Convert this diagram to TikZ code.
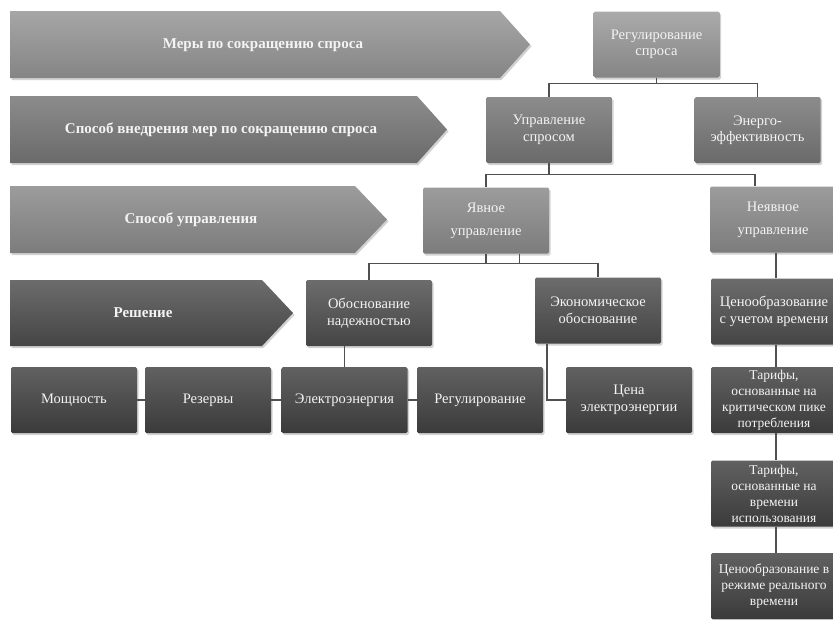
\documentclass[tikz,border=0pt]{standalone}
\usepackage{fontspec}
\setmainfont{Liberation Serif}
\usetikzlibrary{shadows}
\definecolor{aAt}{HTML}{A6A6A6}\definecolor{aAb}{HTML}{858585}
\definecolor{aBt}{HTML}{8C8C8C}\definecolor{aBb}{HTML}{6A6A6A}
\definecolor{aCt}{HTML}{9C9C9C}\definecolor{aCb}{HTML}{7C7C7C}
\definecolor{aDt}{HTML}{6C6C6C}\definecolor{aDb}{HTML}{454545}
\definecolor{conncol}{HTML}{505050}
\definecolor{txtcol}{HTML}{F4F4F4}
\begin{document}
\begin{tikzpicture}[x=1pt,y=-1pt,
  shd/.style={drop shadow={opacity=0.35,shadow xshift=1.5pt,shadow yshift=-2pt}},
  arrowshape/.style={shd,draw=none},
  arrowtext/.style={text=txtcol,font=\fontsize{15}{17}\selectfont\bfseries},
  box/.style={shd,draw=none,rounded corners=1.5pt,minimum width=126pt,minimum height=66pt,
    inner sep=1pt,align=center,text=txtcol,font=\fontsize{14.5}{16.5}\selectfont},
  boxA/.style={box,top color=aAt!95!white,bottom color=aAb},
  boxB/.style={box,top color=aBt,bottom color=aBb},
  boxC/.style={box,top color=aCt,bottom color=aCb},
  boxD/.style={box,top color=aDt,bottom color=aDb},
  boxE/.style={box,top color=black!62,bottom color=black!77},
  small/.style={font=\fontsize{13.5}{16}\selectfont},
  conn/.style={draw=conncol,line width=1.3pt}]
\useasboundingbox[fill=white] (0,0) rectangle (833,619);

% left arrows
\path[arrowshape,top color=aAt,bottom color=aAb] (10,11) -- (500,11) -- (530,44.5) -- (500,78) -- (10,78) -- cycle;
\node[arrowtext] (t1) at (263,45) {Меры по сокращению спроса};
\path[arrowshape,top color=aBt,bottom color=aBb] (10,96) -- (417,96) -- (447,129.5) -- (417,163) -- (10,163) -- cycle;
\node[arrowtext] (t2) at (221,130) {Способ внедрения мер по сокращению спроса};
\path[arrowshape,top color=aCt,bottom color=aCb] (10,186) -- (355,186) -- (387,219.5) -- (355,253) -- (10,253) -- cycle;
\node[arrowtext] (t3) at (191,220) {Способ управления};
\path[arrowshape,top color=aDt,bottom color=aDb] (10,280) -- (262,280) -- (293,313) -- (262,346) -- (10,346) -- cycle;
\node[arrowtext] (t4) at (143,313) {Решение};

% boxes
\node[boxA] (reg) at (656.5,44.5) {Регулирование\\спроса};
\node[boxB] (upr) at (549,130) {Управление\\спросом};
\node[boxB] (ener) at (757.5,130) {Энерго-\\эффективность};
\node[boxC,font=\fontsize{14.5}{23}\selectfont] (yav) at (486,220.5) {Явное\\управление};
\node[boxC,font=\fontsize{14.5}{23}\selectfont] (neyav) at (773,219.5) {Неявное\\управление};
\node[boxD] (obosn) at (369,313) {Обоснование\\надежностью};
\node[boxD] (econ) at (598,310.5) {Экономическое\\обоснование};
\node[boxD] (cen1) at (774,311.5) {Ценообразование\\с учетом времени};
\node[boxE] (mosh) at (74,400) {\strut Мощность};
\node[boxE] (rez) at (208,400) {\strut Резервы};
\node[boxE] (elec) at (344.5,400) {\strut Электроэнергия};
\node[boxE] (regul) at (480,400) {\strut Регулирование};
\node[boxE] (cena) at (629,400) {Цена\\электроэнергии};
\node[boxE,small] (tar1) at (774,400) {Тарифы,\\основанные на\\критическом пике\\потребления};
\node[boxE,small] (tar2) at (774,493.5) {Тарифы,\\основанные на\\времени\\использования};
\node[boxE,small] (cen2) at (774,586) {Ценообразование в\\режиме реального\\времени};

% connectors
\draw[conn] (reg.south) -- ++(0,6) -| (upr.north);
\draw[conn] (reg.south) -- ++(0,6) -| (ener.north);
\draw[conn] (upr.south) -- ++(0,11) -| (yav.north);
\draw[conn] (upr.south) -- ++(0,11) -| ([xshift=-18pt]neyav.north);
\draw[conn] (obosn.north) -- ++(0,-16) -| (econ.north);
\coordinate (ylev) at ([yshift=16pt]obosn.north);
\draw[conn] (yav.south) -- (yav.south |- ylev);
\draw[conn] ([xshift=33.5pt]yav.south) -- ([xshift=33.5pt]yav.south |- ylev);
\draw[conn] ([xshift=2pt]cen1.north) -- ([xshift=2pt]cen1.north |- neyav.south);
\draw[conn] (elec.north) -- (elec.north |- obosn.south);
\draw[conn] ([xshift=-51pt]econ.south) |- (cena.west);
\draw[conn] (mosh) -- (rez) -- (elec) -- (regul);
\draw[conn] ([xshift=2pt]cen1.south) -- ([xshift=2pt]tar1.north);
\draw[conn] ([xshift=2pt]tar1.south) -- ([xshift=2pt]tar2.north);
\draw[conn] ([xshift=2pt]tar2.south) -- ([xshift=2pt]cen2.north);
\end{tikzpicture}
\end{document}
